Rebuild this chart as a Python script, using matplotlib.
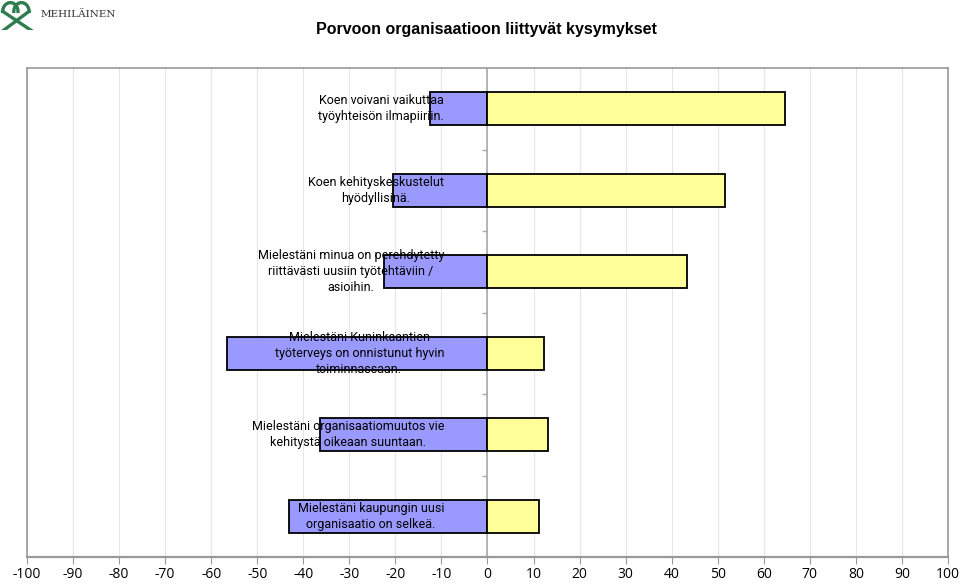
import numpy as np
import matplotlib
matplotlib.use("Agg")
import matplotlib.pyplot as plt
import matplotlib.transforms as mtransforms

categories = [
    "Koen voivani vaikuttaa\ntyöyhteisön ilmapiiriin.",
    "Koen kehityskeskustelut\nhyödyllisinä.",
    "Mielestäni minua on perehdytetty\nriittävästi uusiin työtehtäviin /\nasioihin.",
    "Mielestäni Kuninkaantien\ntyöterveys on onnistunut hyvin\ntoiminnassaan.",
    "Mielestäni organisaatiomuutos vie\nkehitystä oikeaan suuntaan.",
    "Mielestäni kaupungin uusi\norganisaatio on selkeä.",
]
negative = [-12.4, -20.6, -22.4, -56.5, -36.3, -43.0]
positive = [64.7, 51.5, 43.4, 12.2, 13.2, 11.1]
xticks = list(range(-100, 101, 10))

fig = plt.figure(figsize=(9.6, 5.84), dpi=100)
ax = fig.add_axes([27 / 960, 27 / 584, 921 / 960, 489 / 584])

y = np.arange(len(categories))
ax.barh(y, negative, height=0.4, color="#9999FF", edgecolor="black", linewidth=1.3, zorder=3)
ax.barh(y, positive, height=0.4, color="#FFFF99", edgecolor="black", linewidth=1.3, zorder=3)

ax.set_xlim(-100, 100)
ax.set_ylim(len(categories) - 0.5, -0.5)
ax.set_xticks(xticks)
ax.set_xticklabels([str(t) for t in xticks], fontsize=10, family="Open Sans")
ax.set_yticks([])
ax.tick_params(axis="x", direction="out", length=5, color="#999999", pad=2)
ax.grid(axis="x", color="#e6e6e6", linewidth=0.8, zorder=0)

for s in ax.spines.values():
    s.set_color("#999999")
    s.set_linewidth(1.2)
ax.spines["bottom"].set_linewidth(1.6)

# category axis in the middle
ax.axvline(0, color="#aaaaaa", linewidth=1.2, zorder=2)
ax.hlines(np.arange(0.5, len(categories) - 0.5, 1), -1.2, 0, color="#aaaaaa", linewidth=1, zorder=2)

trans = mtransforms.blended_transform_factory(ax.transAxes, ax.transData)
for yi, lab in zip(y, categories):
    ax.text(0.4528, yi, lab, transform=trans, ha="right", va="center",
            multialignment="center", fontsize=9, family="Roboto",
            zorder=4, linespacing=1.3)

fig.text(0.507, 0.95, "Porvoon organisaatioon liittyvät kysymykset",
         ha="center", va="center", fontsize=11.5, fontweight="bold", family="Liberation Sans")

# logo
lax = fig.add_axes([0.0, 0.948, 0.036, 0.05])
lax.axis("off")
lax.set_xlim(0, 1)
lax.set_ylim(0, 1)
t = np.linspace(0, np.pi, 50)
lax.plot(0.3 + 0.22 * np.cos(t), 0.65 + 0.3 * np.sin(t), color="#2e7d4f", lw=2.4)
lax.plot(0.62 + 0.22 * np.cos(t), 0.65 + 0.3 * np.sin(t), color="#2e7d4f", lw=2.4)
lax.plot([0.08, 0.9], [0.65, 0.0], color="#2e7d4f", lw=2.4)
lax.plot([0.84, 0.1], [0.65, 0.0], color="#2e7d4f", lw=2.4)
fig.text(0.042, 0.975, "MEHILÄINEN", fontsize=7.5, family="DejaVu Serif",
         color="#333333", va="center", ha="left")

fig.savefig("out.png", dpi=100, facecolor="white")
